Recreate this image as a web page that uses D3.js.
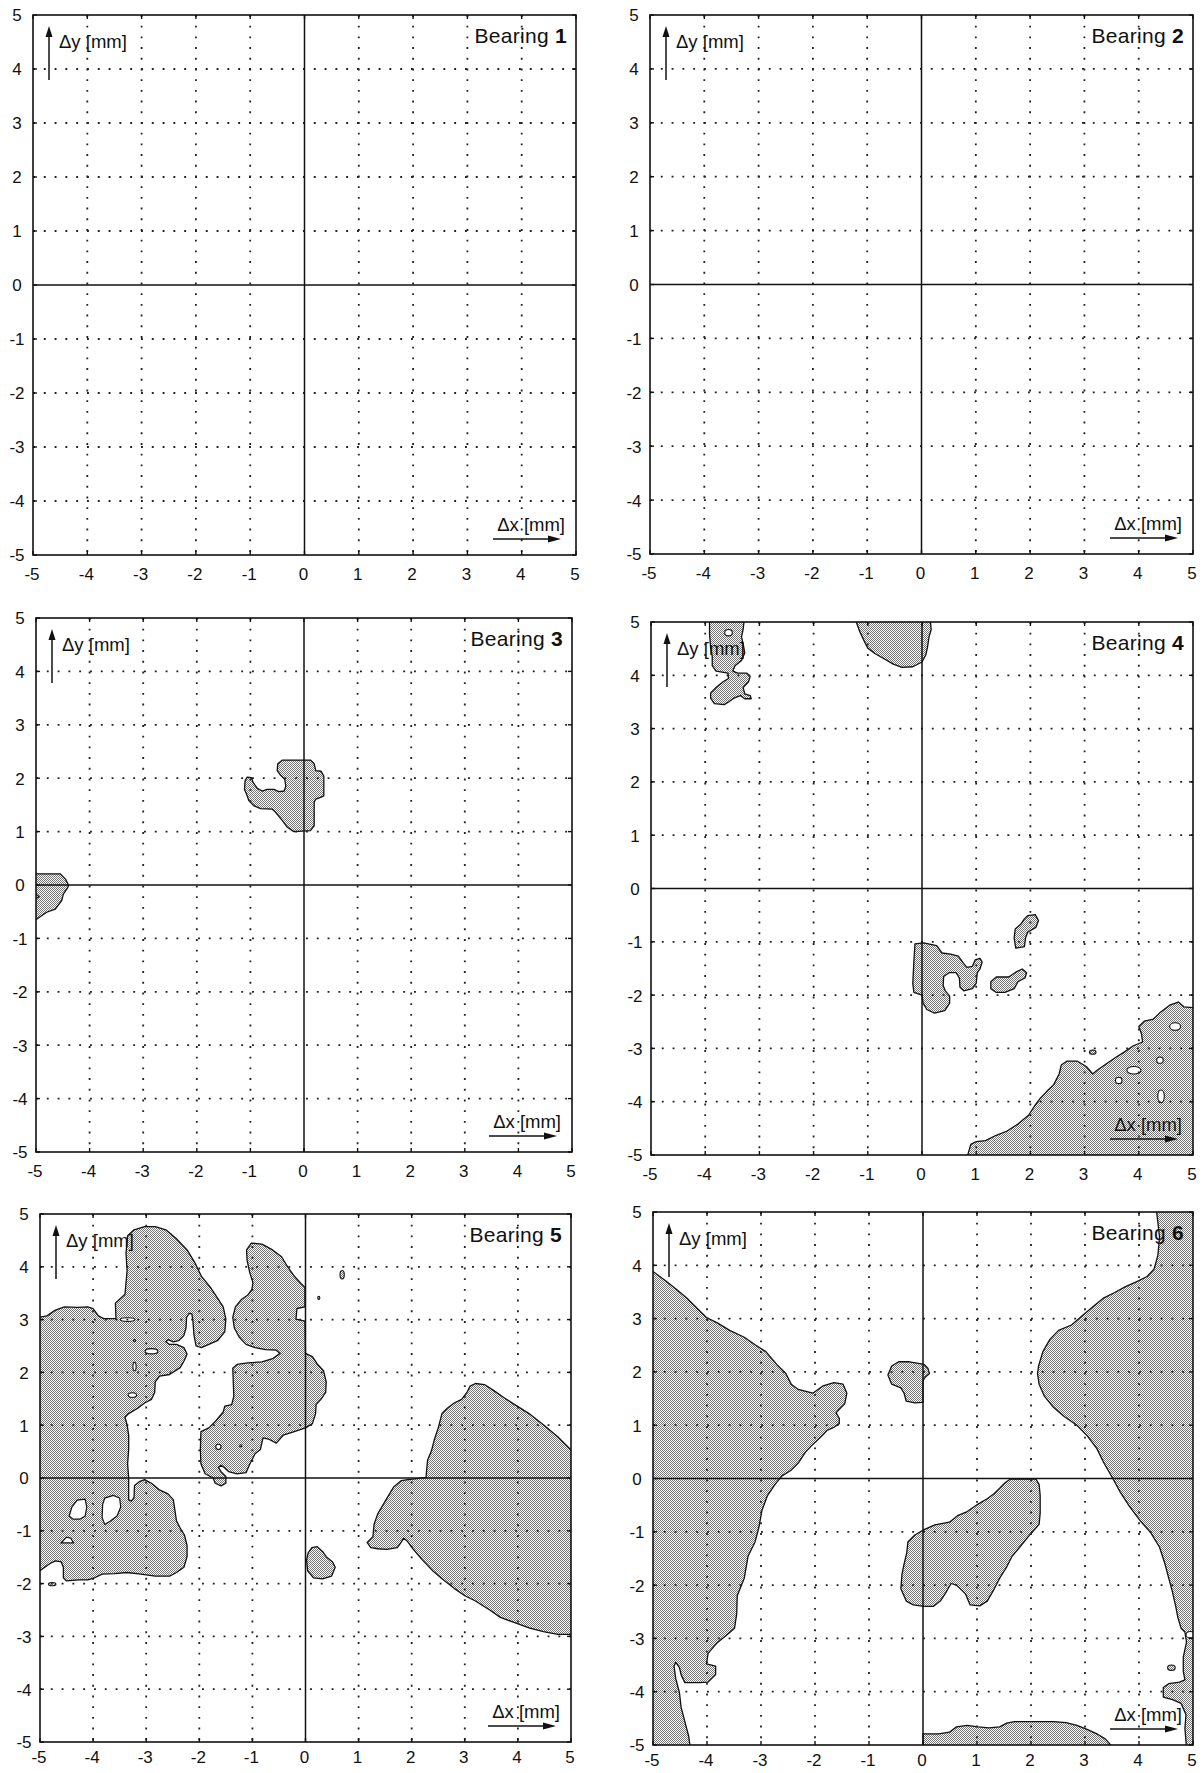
<!DOCTYPE html>
<html>
<head>
<meta charset="utf-8">
<script src="https://cdn.jsdelivr.net/npm/d3@7"></script>
<style>
  body { margin: 0; background: #fff; }
  svg text { font-family: "Liberation Sans", Arial, sans-serif; fill: #111; }
</style>
</head>
<body>
<svg id="chart" width="1204" height="1773"></svg>
<script>
// tick values on both axes (mm)
var ticks = [-5, -4, -3, -2, -1, 0, 1, 2, 3, 4, 5];
var bearings = [1, 2, 3, 4, 5, 6];

// shaded regions per bearing, outline points [dx, dy] in mm
var regions3 = [
  [[-0.40,2.34],[0.12,2.34],[0.19,2.27],[0.22,2.14],[0.32,2.13],[0.37,2.04],[0.37,1.67],[0.31,1.64],[0.22,1.61],[0.19,1.55],[0.19,1.11],[0.12,1.02],[-0.19,1.00],[-0.31,1.08],[-0.40,1.20],[-0.53,1.36],[-0.59,1.42],[-0.81,1.43],[-0.93,1.48],[-1.03,1.58],[-1.06,1.67],[-1.11,1.79],[-1.10,1.95],[-1.06,2.02],[-0.98,2.01],[-0.95,1.92],[-0.87,1.81],[-0.78,1.76],[-0.69,1.79],[-0.56,1.79],[-0.47,1.75],[-0.37,1.76],[-0.34,1.85],[-0.36,1.98],[-0.44,2.06],[-0.50,2.14],[-0.49,2.27]],
  [[-5.05,0.21],[-4.55,0.21],[-4.45,0.11],[-4.39,-0.01],[-4.42,-0.07],[-4.49,-0.17],[-4.52,-0.29],[-4.64,-0.45],[-4.80,-0.51],[-4.99,-0.64],[-5.05,-0.64],[-5.05,-0.28],[-4.94,-0.22],[-5.05,-0.14]]
];
var regions4 = [
  [[-3.92,5.05],[-3.28,5.05],[-3.30,4.86],[-3.33,4.72],[-3.30,4.59],[-3.27,4.42],[-3.33,4.28],[-3.45,4.18],[-3.49,4.08],[-3.40,4.04],[-3.23,4.04],[-3.17,3.98],[-3.20,3.88],[-3.30,3.77],[-3.27,3.65],[-3.17,3.62],[-3.15,3.56],[-3.27,3.56],[-3.35,3.62],[-3.47,3.57],[-3.57,3.50],[-3.65,3.45],[-3.83,3.47],[-3.90,3.57],[-3.90,3.67],[-3.80,3.77],[-3.67,3.88],[-3.57,3.94],[-3.58,4.04],[-3.80,4.08],[-3.87,4.18],[-3.87,4.35],[-3.90,4.52],[-3.92,4.78]],
  [[-1.23,5.05],[0.15,5.05],[0.17,4.86],[0.13,4.72],[0.10,4.52],[0.07,4.38],[0.00,4.25],[-0.17,4.16],[-0.37,4.15],[-0.53,4.21],[-0.70,4.31],[-0.87,4.41],[-1.00,4.51],[-1.07,4.65],[-1.15,4.82]],
  [[-0.13,-1.04],[0.03,-1.02],[0.27,-1.07],[0.37,-1.21],[0.53,-1.23],[0.67,-1.27],[0.77,-1.41],[0.83,-1.48],[0.93,-1.46],[0.98,-1.34],[1.07,-1.31],[1.11,-1.38],[1.07,-1.51],[1.02,-1.58],[1.00,-1.78],[0.93,-1.88],[0.77,-1.92],[0.70,-1.85],[0.69,-1.68],[0.63,-1.58],[0.50,-1.58],[0.40,-1.65],[0.39,-1.82],[0.43,-1.92],[0.51,-2.02],[0.51,-2.15],[0.42,-2.29],[0.23,-2.34],[0.09,-2.27],[0.02,-2.15],[0.00,-2.00],[-0.15,-1.95],[-0.17,-1.78],[-0.15,-1.37]],
  [[1.95,-0.51],[2.09,-0.49],[2.15,-0.60],[2.10,-0.73],[1.95,-0.82],[1.91,-0.93],[1.89,-1.09],[1.73,-1.12],[1.70,-0.93],[1.72,-0.76],[1.83,-0.66],[1.89,-0.57]],
  [[1.27,-1.75],[1.37,-1.66],[1.60,-1.66],[1.73,-1.57],[1.85,-1.51],[1.93,-1.58],[1.90,-1.68],[1.77,-1.75],[1.70,-1.88],[1.53,-1.95],[1.37,-1.95],[1.27,-1.88]],
  [[0.83,-5.05],[0.90,-4.80],[1.00,-4.75],[1.17,-4.73],[1.37,-4.63],[1.57,-4.55],[1.77,-4.42],[1.97,-4.25],[2.07,-4.09],[2.17,-3.95],[2.30,-3.81],[2.43,-3.68],[2.53,-3.48],[2.57,-3.31],[2.67,-3.24],[2.87,-3.24],[3.03,-3.34],[3.15,-3.48],[3.23,-3.41],[3.37,-3.31],[3.57,-3.17],[3.73,-3.07],[3.90,-2.95],[4.07,-2.88],[4.05,-2.73],[4.00,-2.59],[4.10,-2.49],[4.27,-2.45],[4.40,-2.32],[4.57,-2.19],[4.73,-2.13],[4.83,-2.22],[5.05,-2.24],[5.05,-5.05]]
];
var regions5 = [
  [[-5.05,3.04],[-4.87,3.07],[-4.71,3.18],[-4.54,3.24],[-4.30,3.23],[-4.10,3.24],[-4.00,3.21],[-3.90,3.07],[-3.80,3.02],[-3.57,3.02],[-3.58,3.31],[-3.40,3.48],[-3.36,3.92],[-3.38,4.26],[-3.35,4.59],[-3.23,4.70],[-3.03,4.76],[-2.83,4.76],[-2.63,4.70],[-2.43,4.53],[-2.23,4.32],[-2.09,4.09],[-1.96,3.82],[-1.79,3.61],[-1.66,3.41],[-1.55,3.24],[-1.50,3.01],[-1.52,2.77],[-1.66,2.60],[-1.82,2.53],[-1.96,2.47],[-2.06,2.50],[-2.10,2.70],[-2.12,2.97],[-2.14,3.11],[-2.19,3.12],[-2.24,3.04],[-2.25,2.84],[-2.29,2.70],[-2.39,2.60],[-2.49,2.58],[-2.59,2.62],[-2.63,2.58],[-2.56,2.53],[-2.43,2.53],[-2.29,2.47],[-2.23,2.35],[-2.28,2.23],[-2.36,2.09],[-2.56,1.96],[-2.75,1.93],[-2.83,1.82],[-2.84,1.62],[-2.90,1.49],[-3.03,1.42],[-3.16,1.32],[-3.33,1.22],[-3.40,1.15],[-3.36,1.01],[-3.33,0.81],[-3.33,0.54],[-3.35,0.27],[-3.33,0.00],[-3.33,-0.41],[-3.28,-0.44],[-3.23,-0.37],[-3.22,-0.14],[-3.13,-0.07],[-3.03,-0.03],[-2.90,-0.10],[-2.76,-0.22],[-2.59,-0.30],[-2.49,-0.41],[-2.46,-0.61],[-2.43,-0.81],[-2.36,-0.95],[-2.28,-1.08],[-2.23,-1.28],[-2.23,-1.49],[-2.29,-1.69],[-2.43,-1.79],[-2.56,-1.86],[-2.83,-1.86],[-3.10,-1.82],[-3.36,-1.79],[-3.60,-1.81],[-3.83,-1.82],[-3.97,-1.89],[-4.10,-1.93],[-4.27,-1.93],[-4.50,-1.95],[-4.56,-1.89],[-4.56,-1.69],[-4.60,-1.59],[-4.71,-1.57],[-4.81,-1.62],[-4.91,-1.69],[-5.05,-1.79]],
  [[-1.02,4.45],[-0.82,4.43],[-0.62,4.32],[-0.45,4.19],[-0.35,4.02],[-0.21,3.82],[-0.08,3.68],[-0.01,3.61],[-0.01,3.24],[-0.16,3.21],[-0.18,3.01],[-0.01,2.97],[0.00,2.36],[0.13,2.30],[0.22,2.16],[0.34,2.03],[0.39,1.82],[0.38,1.62],[0.29,1.49],[0.20,1.39],[0.19,1.22],[0.13,1.03],[0.00,0.95],[-0.21,0.88],[-0.42,0.81],[-0.55,0.66],[-0.68,0.73],[-0.80,0.76],[-0.85,0.54],[-0.95,0.46],[-1.05,0.26],[-1.12,0.10],[-1.29,0.08],[-1.45,0.12],[-1.52,0.19],[-1.59,0.24],[-1.64,0.20],[-1.59,0.12],[-1.50,0.03],[-1.50,-0.10],[-1.59,-0.15],[-1.70,-0.10],[-1.74,0.00],[-1.89,0.08],[-1.97,0.27],[-1.98,0.54],[-1.97,0.88],[-1.82,0.95],[-1.69,1.08],[-1.55,1.25],[-1.52,1.36],[-1.39,1.39],[-1.35,1.55],[-1.37,2.08],[-1.29,2.15],[-1.09,2.18],[-0.82,2.20],[-0.62,2.26],[-0.48,2.36],[-0.55,2.42],[-0.75,2.43],[-0.95,2.47],[-1.12,2.53],[-1.25,2.67],[-1.34,2.84],[-1.37,3.04],[-1.32,3.24],[-1.21,3.38],[-1.09,3.46],[-1.01,3.57],[-0.99,3.70],[-1.05,3.89],[-1.10,4.12],[-1.11,4.32]],
  [[0.12,-1.32],[0.22,-1.30],[0.32,-1.39],[0.39,-1.49],[0.51,-1.59],[0.56,-1.69],[0.49,-1.86],[0.32,-1.91],[0.15,-1.89],[0.04,-1.76],[0.02,-1.55],[0.05,-1.42]],
  [[3.20,1.79],[3.37,1.77],[3.54,1.66],[3.74,1.52],[3.94,1.39],[4.21,1.22],[4.48,1.01],[4.75,0.78],[5.05,0.48],[5.05,-2.96],[4.75,-2.96],[4.48,-2.91],[4.21,-2.84],[3.94,-2.74],[3.67,-2.64],[3.47,-2.50],[3.20,-2.33],[3.00,-2.23],[2.80,-2.09],[2.60,-1.93],[2.40,-1.76],[2.20,-1.55],[2.03,-1.35],[1.92,-1.20],[1.85,-1.14],[1.80,-1.22],[1.73,-1.32],[1.53,-1.35],[1.36,-1.34],[1.23,-1.32],[1.16,-1.22],[1.27,-1.11],[1.29,-0.88],[1.36,-0.68],[1.46,-0.51],[1.56,-0.34],[1.66,-0.17],[1.80,-0.05],[1.93,-0.03],[2.10,-0.01],[2.27,0.01],[2.28,0.14],[2.30,0.34],[2.37,0.51],[2.43,0.74],[2.50,0.95],[2.57,1.22],[2.67,1.32],[2.80,1.42],[2.94,1.49],[3.04,1.62],[3.10,1.74]]
];
var regions6 = [
  [[-5.05,3.92],[-4.78,3.72],[-4.58,3.56],[-4.38,3.39],[-4.18,3.19],[-4.01,3.02],[-3.81,2.92],[-3.58,2.78],[-3.31,2.65],[-3.11,2.51],[-2.91,2.38],[-2.71,2.14],[-2.54,1.97],[-2.44,1.77],[-2.31,1.67],[-2.04,1.60],[-1.85,1.74],[-1.65,1.80],[-1.48,1.77],[-1.41,1.60],[-1.45,1.40],[-1.55,1.30],[-1.61,1.23],[-1.55,1.13],[-1.55,1.03],[-1.65,0.96],[-1.78,0.90],[-1.88,0.79],[-2.05,0.63],[-2.18,0.49],[-2.31,0.29],[-2.45,0.15],[-2.61,0.05],[-2.74,-0.11],[-2.88,-0.32],[-2.98,-0.59],[-3.04,-0.92],[-3.11,-1.19],[-3.24,-1.46],[-3.31,-1.87],[-3.44,-2.20],[-3.45,-2.54],[-3.49,-2.81],[-3.64,-2.94],[-3.81,-3.08],[-3.98,-3.28],[-4.01,-3.48],[-3.84,-3.52],[-3.84,-3.68],[-3.98,-3.82],[-4.14,-3.83],[-4.41,-3.83],[-4.48,-3.68],[-4.51,-3.55],[-4.58,-3.45],[-4.61,-3.52],[-4.58,-3.75],[-4.51,-4.02],[-4.48,-4.29],[-4.41,-4.56],[-4.34,-4.83],[-4.31,-5.05],[-5.05,-5.05]],
  [[-0.58,2.11],[-0.45,2.19],[-0.25,2.19],[0.02,2.14],[0.09,2.07],[0.12,1.97],[0.05,1.91],[0.00,1.84],[0.00,1.43],[-0.15,1.42],[-0.31,1.45],[-0.35,1.60],[-0.41,1.70],[-0.58,1.77],[-0.65,1.94]],
  [[1.62,-0.01],[2.09,-0.01],[2.15,-0.11],[2.17,-0.32],[2.17,-0.65],[2.15,-0.86],[1.95,-1.09],[1.79,-1.29],[1.65,-1.46],[1.55,-1.66],[1.42,-1.87],[1.32,-2.07],[1.19,-2.30],[1.05,-2.39],[0.87,-2.37],[0.79,-2.17],[0.62,-2.00],[0.52,-1.97],[0.43,-2.13],[0.32,-2.30],[0.19,-2.40],[0.02,-2.40],[-0.18,-2.37],[-0.31,-2.30],[-0.41,-2.07],[-0.39,-1.80],[-0.35,-1.60],[-0.30,-1.39],[-0.28,-1.19],[-0.15,-1.06],[0.02,-0.96],[0.22,-0.87],[0.49,-0.82],[0.65,-0.69],[0.82,-0.62],[1.02,-0.48],[1.19,-0.38],[1.32,-0.28],[1.42,-0.18],[1.52,-0.08]],
  [[4.32,5.05],[4.35,4.80],[4.38,4.53],[4.35,4.19],[4.28,3.93],[4.15,3.79],[3.95,3.69],[3.75,3.60],[3.55,3.49],[3.35,3.39],[3.18,3.25],[2.98,3.08],[2.75,2.88],[2.51,2.78],[2.35,2.61],[2.22,2.38],[2.14,2.11],[2.12,1.97],[2.15,1.77],[2.25,1.54],[2.42,1.33],[2.62,1.16],[2.85,1.00],[3.05,0.79],[3.22,0.56],[3.35,0.29],[3.52,-0.01],[3.65,-0.25],[3.82,-0.52],[4.02,-0.79],[4.22,-1.02],[4.38,-1.29],[4.48,-1.60],[4.55,-1.87],[4.62,-2.13],[4.68,-2.40],[4.72,-2.61],[4.78,-2.81],[4.85,-2.88],[4.88,-3.07],[4.82,-3.35],[4.82,-3.62],[4.85,-3.78],[4.75,-3.82],[4.55,-3.85],[4.45,-3.92],[4.45,-4.10],[4.62,-4.15],[4.78,-4.22],[4.87,-4.43],[4.85,-4.69],[4.88,-5.05],[5.05,-5.05],[5.05,5.05]],
  [[0.00,-4.79],[0.29,-4.79],[0.49,-4.76],[0.62,-4.66],[0.82,-4.63],[1.02,-4.66],[1.22,-4.68],[1.42,-4.66],[1.55,-4.59],[1.69,-4.56],[1.95,-4.56],[2.42,-4.56],[2.65,-4.58],[2.85,-4.63],[3.05,-4.71],[3.22,-4.79],[3.38,-4.89],[3.52,-5.05],[0.00,-5.05]]
];

// white holes inside shaded regions (outlines in mm)
var holes5 = [
  [[-4.45,-0.72],[-4.40,-0.55],[-4.30,-0.42],[-4.15,-0.40],[-4.12,-0.55],[-4.15,-0.72],[-4.25,-0.78],[-4.38,-0.78]],
  [[-3.82,-0.50],[-3.78,-0.38],[-3.62,-0.33],[-3.50,-0.38],[-3.48,-0.55],[-3.55,-0.72],[-3.68,-0.82],[-3.78,-0.88],[-3.83,-0.75]],
  [[-4.60,-1.23],[-4.50,-1.12],[-4.42,-1.14],[-4.37,-1.23]]
];

// small elliptic holes and islands: [cx, cy, rx, ry] in mm
var voids4 = [[4.67,-2.59,0.10,0.07],[4.39,-3.22,0.06,0.06],[3.91,-3.41,0.13,0.07],[3.63,-3.60,0.06,0.06],[4.41,-3.90,0.06,0.12],[-3.57,4.80,0.07,0.06]];
var islands4 = [[3.15,-3.07,0.06,0.04]];
var voids5 = [[-3.35,3.00,0.14,0.035],[-2.90,2.40,0.12,0.05],[-3.22,2.11,0.03,0.08],[-3.26,1.57,0.08,0.045],[-1.64,0.59,0.05,0.05],[-1.22,0.61,0.02,0.02],[-3.22,2.60,0.02,0.02]];
var islands5 = [[0.69,3.85,0.04,0.08],[0.25,3.41,0.02,0.03],[-4.77,-2.01,0.07,0.03]];
var voids6 = [[4.95,-2.93,0.08,0.06]];
var islands6 = [[4.60,-3.55,0.07,0.05]];

var regions = {1: [], 2: [], 3: regions3, 4: regions4, 5: regions5, 6: regions6};
var holes = {5: holes5};
var voids = {4: voids4, 5: voids5, 6: voids6};
var islands = {4: islands4, 5: islands5, 6: islands6};

// panel frames in page pixels: left, top, right, bottom
var frames = [
  [33, 15, 576, 555],
  [650, 15, 1193, 554],
  [36, 618, 572, 1152],
  [651, 622, 1193, 1155],
  [40, 1214, 571, 1742],
  [653, 1212, 1193, 1745]
];

var svg = d3.select("#chart");
var defs = svg.append("defs");

//stipple fill for the shaded zones
var pat = defs.append("pattern")
    .attr("id", "stipple")
    .attr("patternUnits", "userSpaceOnUse")
    .attr("width", 2)
    .attr("height", 2);
pat.append("rect").attr("width", 2).attr("height", 2).attr("fill", "#fff");
pat.append("rect").attr("width", 1).attr("height", 1).attr("fill", "#747474");
pat.append("rect").attr("x", 1).attr("y", 1).attr("width", 1).attr("height", 1).attr("fill", "#747474");

bearings.forEach(function(b, i) {
  var f = frames[i];
  var x = d3.scaleLinear().domain([-5, 5]).range([f[0], f[2]]);
  var y = d3.scaleLinear().domain([-5, 5]).range([f[3], f[1]]);

  defs.append("clipPath").attr("id", "clip" + b)
    .append("rect")
    .attr("x", f[0]).attr("y", f[1])
    .attr("width", f[2] - f[0]).attr("height", f[3] - f[1]);

  var g = svg.append("g").attr("class", "panel");
  var plot = g.append("g").attr("clip-path", "url(#clip" + b + ")");

  var line = d3.line()
      .x(function(d) { return x(d[0]); })
      .y(function(d) { return y(d[1]); })
      .curve(d3.curveLinearClosed);

  //shaded zones
  plot.selectAll(".zone")
    .data(regions[b] || [])
    .enter()
    .append("path")
    .attr("class", "zone")
    .attr("d", line)
    .attr("fill", "url(#stipple)")
    .attr("stroke", "#111")
    .attr("stroke-width", 1.3)
    .attr("stroke-linejoin", "round");

  plot.selectAll(".hole")
    .data(holes[b] || [])
    .enter()
    .append("path")
    .attr("class", "hole")
    .attr("d", line)
    .attr("fill", "#fff")
    .attr("stroke", "#111")
    .attr("stroke-width", 1.2);

  function ellipses(data, fill) {
    plot.selectAll(null)
      .data(data)
      .enter()
      .append("ellipse")
      .attr("cx", function(d) { return x(d[0]); })
      .attr("cy", function(d) { return y(d[1]); })
      .attr("rx", function(d) { return x(d[0] + d[2]) - x(d[0]); })
      .attr("ry", function(d) { return y(d[1] - d[3]) - y(d[1]); })
      .attr("fill", fill)
      .attr("stroke", "#111")
      .attr("stroke-width", 1.1);
  }
  ellipses(voids[b] || [], "#fff");
  ellipses(islands[b] || [], "url(#stipple)");

  //dotted grid
  var inner = ticks.filter(function(t) { return t !== 0 && Math.abs(t) !== 5; });
  g.selectAll(".gx")
    .data(inner)
    .enter()
    .append("line")
    .attr("x1", function(d) { return x(d); })
    .attr("x2", function(d) { return x(d); })
    .attr("y1", f[1])
    .attr("y2", f[3])
    .attr("stroke", "#222")
    .attr("stroke-width", 1.8)
    .attr("stroke-dasharray", "1.9,8.8");
  g.selectAll(".gy")
    .data(inner)
    .enter()
    .append("line")
    .attr("y1", function(d) { return y(d); })
    .attr("y2", function(d) { return y(d); })
    .attr("x1", f[0])
    .attr("x2", f[2])
    .attr("stroke", "#222")
    .attr("stroke-width", 1.8)
    .attr("stroke-dasharray", "1.9,8.9");

  //zero lines
  g.append("line")
    .attr("x1", x(0)).attr("x2", x(0)).attr("y1", f[1]).attr("y2", f[3])
    .attr("stroke", "#111").attr("stroke-width", 1.5);
  g.append("line")
    .attr("y1", y(0)).attr("y2", y(0)).attr("x1", f[0]).attr("x2", f[2])
    .attr("stroke", "#111").attr("stroke-width", 1.5);

  //ticks inside the frame
  var tk = g.append("g").attr("stroke", "#111").attr("stroke-width", 1.4);
  ticks.forEach(function(t) {
    tk.append("line").attr("x1", x(t)).attr("x2", x(t)).attr("y1", f[3]).attr("y2", f[3] - 4);
    tk.append("line").attr("x1", x(t)).attr("x2", x(t)).attr("y1", f[1]).attr("y2", f[1] + 4);
    tk.append("line").attr("y1", y(t)).attr("y2", y(t)).attr("x1", f[0]).attr("x2", f[0] + 4);
    tk.append("line").attr("y1", y(t)).attr("y2", y(t)).attr("x1", f[2]).attr("x2", f[2] - 4);
  });

  //frame
  g.append("rect")
    .attr("x", f[0]).attr("y", f[1])
    .attr("width", f[2] - f[0]).attr("height", f[3] - f[1])
    .attr("fill", "none")
    .attr("stroke", "#111")
    .attr("stroke-width", 1.6);

  //tick labels through d3 axes
  var xAxis = d3.axisBottom(x).tickValues(ticks).tickSize(0).tickPadding(0)
      .tickFormat(function(d) { return String(d); });
  var yAxis = d3.axisLeft(y).tickValues(ticks).tickSize(0).tickPadding(0)
      .tickFormat(function(d) { return String(d); });

  var ax = g.append("g").attr("transform", "translate(0," + f[3] + ")").call(xAxis);
  ax.select(".domain").remove();
  ax.selectAll("text")
    .attr("y", i > 3 ? 15 : 19).attr("dy", "0.35em")
    .attr("dx", -1.5)
    .style("font-size", "17px").style("font-family", "Liberation Sans, Arial, sans-serif")
    .attr("fill", "#111");

  var ay = g.append("g").attr("transform", "translate(" + f[0] + ",0)").call(yAxis);
  ay.select(".domain").remove();
  ay.selectAll("text")
    .attr("x", -16).attr("dy", "0.35em")
    .attr("text-anchor", "middle")
    .style("font-size", "17px").style("font-family", "Liberation Sans, Arial, sans-serif")
    .attr("fill", "#111");

  //panel title
  var title = g.append("text")
    .attr("x", f[2] - 9)
    .attr("y", f[1] + 28)
    .attr("text-anchor", "end")
    .style("font-size", "21px")
    .style("letter-spacing", "0.3px");
  title.append("tspan").text("Bearing ");
  title.append("tspan").style("font-weight", "bold").text(b);

  //axis labels with arrows
  g.append("text")
    .attr("x", f[0] + 26)
    .attr("y", f[1] + 33)
    .style("font-size", "18.5px")
    .text("\u0394y [mm]");
  g.append("line")
    .attr("x1", f[0] + 16).attr("x2", f[0] + 16)
    .attr("y1", f[1] + 65).attr("y2", f[1] + 20)
    .attr("stroke", "#111").attr("stroke-width", 1.5);
  g.append("path")
    .attr("d", "M" + (f[0] + 16) + "," + (f[1] + 11) + "l-3.5,11l7,0z")
    .attr("fill", "#111");

  g.append("text")
    .attr("x", f[2] - 11)
    .attr("y", f[3] - 24)
    .attr("text-anchor", "end")
    .style("font-size", "18.5px")
    .text("\u0394x [mm]");
  g.append("line")
    .attr("x1", f[2] - 83).attr("x2", f[2] - 26)
    .attr("y1", f[3] - 16).attr("y2", f[3] - 16)
    .attr("stroke", "#111").attr("stroke-width", 1.5);
  g.append("path")
    .attr("d", "M" + (f[2] - 15) + "," + (f[3] - 16) + "l-13,-3.5l0,7z")
    .attr("fill", "#111");
});
</script>
</body>
</html>
